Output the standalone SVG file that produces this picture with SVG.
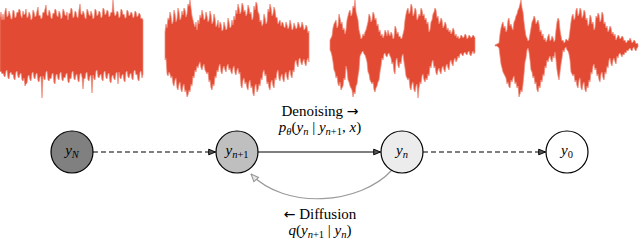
<svg xmlns="http://www.w3.org/2000/svg" width="640" height="240" viewBox="0 0 640 240">
<style>
.wave{fill:#e34a33;stroke:#ee8b7a;stroke-width:0.7;stroke-linejoin:miter}
.node{stroke:#000;stroke-width:1.2}
.lbl{font-family:"Liberation Serif","Times New Roman",serif;font-size:15px;fill:#000}
.it{font-style:italic}
.sub{font-size:10.5px}
.arr{font-family:"DejaVu Sans",sans-serif;font-size:14px}
.edge{fill:none;stroke:#000;stroke-width:1.2}
.dash{stroke-dasharray:5 3}
.diff{fill:none;stroke:#9a9a9a;stroke-width:1.2}
</style>
<defs>
<marker id="ah" viewBox="0 0 10 10" refX="9.5" refY="5" markerWidth="8" markerHeight="8" markerUnits="userSpaceOnUse" orient="auto">
<path d="M1,1.5 L9.5,5 L1,8.5 Z" fill="#555" stroke="#000" stroke-width="1.2"/>
</marker>
<marker id="ahg" viewBox="0 0 10 10" refX="9.5" refY="5" markerWidth="9" markerHeight="9" markerUnits="userSpaceOnUse" orient="auto">
<path d="M1,1.5 L9.5,5 L1,8.5 Z" fill="#e6e6e6" stroke="#9a9a9a" stroke-width="1.2"/>
</marker>
</defs>
<g id="waveforms">
<polygon class="wave" points="0,18 1,12 2,20 3,14 4,20 5,11 6,8 7,17 8,16 9,11 10,14 11,19 12,19 13,10 14,11 15,18 16,17 17,12 18,13 19,9 20,10 21,16 22,18 23,11 24,15 25,14 26,9 27,18 28,17 29,12 30,14 31,20 32,19 33,10 34,12 35,17 36,16 37,11 38,7 39,16 40,15 41,19 42,18 43,12 44,13 45,9 46,5 47,15 48,16 49,10 50,12 51,18 52,19 53,13 54,14 55,9 56,10 57,16 58,17 59,11 60,13 61,19 62,18 63,9 64,11 65,15 66,16 67,12 68,20 69,13 70,14 71,8 72,9 73,18 74,17 75,11 76,12 77,17 78,18 79,10 80,4 81,14 82,15 83,11 84,13 85,18 86,19 87,9 88,11 89,15 90,16 91,11 92,14 93,19 94,18 95,9 96,10 97,16 98,15 99,11 100,12 101,18 102,17 103,8 104,9 105,15 106,14 107,10 108,11 109,17 110,16 111,12 112,13 113,0 114,12 115,16 116,15 117,11 118,12 119,18 120,17 121,9 122,10 123,15 124,14 125,18 126,18 127,10 128,11 129,16 130,15 131,12 132,13 133,18 134,17 135,11 136,12 137,17 138,16 139,13 140,14 141,19 142,18 143,20 143,74 142,78 141,71 140,72 139,81 138,80 137,74 136,75 135,70 134,71 133,80 132,79 131,73 130,74 129,78 128,77 127,71 126,72 125,82 124,81 123,74 122,75 121,79 120,78 119,72 118,84 117,72 116,73 115,80 114,79 113,75 112,76 111,83 110,82 109,73 108,74 107,79 106,78 105,71 104,72 103,81 102,80 101,74 100,75 99,78 98,77 97,70 96,71 95,80 94,79 93,75 92,93 91,75 90,76 89,81 88,80 87,72 86,73 85,79 84,78 83,89 82,77 81,73 80,74 79,82 78,81 77,74 76,75 75,80 74,79 73,71 72,72 71,79 70,78 69,83 68,82 67,73 66,74 65,78 64,77 63,81 62,80 61,72 60,73 59,80 58,79 57,74 56,75 55,84 54,83 53,73 52,74 51,79 50,78 49,81 48,80 47,71 46,72 45,80 44,79 43,76 42,98 41,76 40,77 39,82 38,81 37,73 36,74 35,79 34,78 33,72 32,73 31,81 30,80 29,75 28,76 27,83 26,84 25,86 24,78 23,81 22,80 21,73 20,74 19,78 18,77 17,71 16,72 15,80 14,79 13,74 12,75 11,72 10,73 9,79 8,78 7,70 6,71 5,77 4,76 3,73 2,74 1,71 0,72"/>
<polygon class="wave" points="165,32 166,24 167,28 168,18 169,20 170,12 171,16 172,24 173,22 174,10 175,14 176,22 177,19 178,8 179,12 180,20 181,18 182,11 183,15 184,8 185,10 186,17 187,14 188,4 189,6 190,0 191,8 192,16 193,20 194,24 195,27 196,22 197,30 198,20 199,24 200,15 201,18 202,10 203,14 204,20 205,19 206,12 207,16 208,22 209,20 210,11 211,15 212,24 213,22 214,14 215,18 216,27 217,25 218,20 219,28 220,22 221,24 222,31 223,30 224,22 225,26 226,30 227,29 228,18 229,22 230,28 231,27 232,20 233,25 234,16 235,20 236,10 237,14 238,4 239,8 240,14 241,12 242,3 243,5 244,12 245,10 246,16 247,14 248,5 249,8 250,14 251,12 252,20 253,18 254,6 255,10 256,2 257,4 258,12 259,14 260,22 261,20 262,26 263,24 264,14 265,18 266,24 267,22 268,9 269,12 270,4 271,8 272,16 273,14 274,7 275,10 276,18 277,17 278,24 279,22 280,20 281,26 282,22 283,23 284,27 285,28 286,22 287,25 288,29 289,27 290,20 291,24 292,30 293,29 294,23 295,26 296,29 297,28 298,22 299,24 300,28 301,27 302,22 303,25 304,30 305,29 306,25 307,27 308,33 309,31 309,62 308,58 307,60 306,66 305,64 304,59 303,61 302,65 301,63 300,58 299,59 298,67 297,65 296,60 295,62 294,72 293,70 292,78 291,76 290,70 289,72 288,80 287,78 286,72 285,74 284,82 283,80 282,74 281,76 280,81 279,79 278,70 277,72 276,80 275,78 274,88 273,86 272,80 271,82 270,90 269,88 268,82 267,84 266,74 265,76 264,70 263,72 262,80 261,78 260,86 259,84 258,90 257,92 256,84 255,86 254,96 253,94 252,86 251,88 250,80 249,82 248,90 247,88 246,82 245,84 244,78 243,80 242,88 241,86 240,72 239,74 238,68 237,70 236,75 235,73 234,66 233,68 232,74 231,72 230,68 229,70 228,64 227,66 226,72 225,70 224,66 223,68 222,74 221,72 220,64 219,66 218,72 217,70 216,78 215,76 214,86 213,84 212,90 211,88 210,80 209,82 208,72 207,74 206,72 205,70 204,64 203,66 202,70 201,68 200,62 199,64 198,68 197,66 196,72 195,70 194,78 193,76 192,86 191,84 190,92 189,90 188,95 187,97 186,90 185,92 184,84 183,86 182,92 181,90 180,82 179,84 178,90 177,88 176,78 175,80 174,86 173,84 172,76 171,78 170,74 169,72 168,76 167,74 166,58 165,60"/>
<polygon class="wave" points="330,40 331,38 332,36 333,28 334,24 335,22 336,20 337,28 338,26 339,14 340,18 341,24 342,22 343,30 344,28 345,34 346,30 347,20 348,16 349,12 350,10 351,16 352,14 353,6 354,8 355,0 356,12 357,16 358,20 359,30 360,34 361,39 362,38 363,34 364,36 365,32 366,30 367,26 368,22 369,14 370,16 371,22 372,20 373,12 374,14 375,20 376,18 377,26 378,24 379,32 380,30 381,36 382,34 383,38 384,36 385,30 386,32 387,36 388,30 389,34 390,36 391,32 392,34 393,39 394,38 395,26 396,28 397,34 398,32 399,37 400,36 401,39 402,38 403,34 404,30 405,20 406,14 407,10 408,8 409,14 410,12 411,4 412,6 413,16 414,14 415,8 416,10 417,20 418,18 419,14 420,16 421,8 422,10 423,16 424,14 425,20 426,18 427,24 428,22 429,32 430,30 431,22 432,20 433,14 434,12 435,8 436,10 437,18 438,16 439,24 440,22 441,18 442,20 443,28 444,26 445,22 446,24 447,30 448,28 449,32 450,30 451,34 452,32 453,28 454,30 455,36 456,34 457,38 458,36 459,39 460,38 461,35 462,36 463,38 464,37 465,34 466,35 467,39 468,38 469,35 470,36 471,38 472,37 473,35 474,36 475,38 475,52 474,54 473,51 472,53 471,56 470,55 469,51 468,52 467,55 466,54 465,52 464,53 463,56 462,55 461,53 460,54 459,58 458,56 457,60 456,62 455,58 454,60 453,66 452,64 451,60 450,62 449,70 448,68 447,64 446,66 445,72 444,70 443,66 442,68 441,74 440,72 439,68 438,70 437,75 436,73 435,66 434,68 433,60 432,62 431,68 430,66 429,76 428,74 427,80 426,78 425,82 424,80 423,74 422,76 421,84 420,82 419,88 418,98 417,84 416,86 415,92 414,90 413,82 412,84 411,90 410,88 409,78 408,80 407,78 406,76 405,68 404,62 403,54 402,56 401,64 400,62 399,68 398,66 397,58 396,60 395,74 394,72 393,62 392,64 391,58 390,56 389,53 388,54 387,57 386,56 385,53 384,54 383,60 382,58 381,66 380,72 379,80 378,82 377,86 376,88 375,92 374,90 373,82 372,84 371,82 370,80 369,74 368,72 367,62 366,58 365,55 364,54 363,51 362,52 361,54 360,56 359,70 358,76 357,84 356,86 355,94 354,92 353,97 352,90 351,88 350,86 349,82 348,80 347,70 346,66 345,80 344,78 343,86 342,88 341,90 340,82 339,86 338,84 337,76 336,78 335,72 334,70 333,62 332,56 331,52 330,50"/>
<polygon class="wave" points="495,45 497,44 499,43 500,34 501,28 502,24 503,22 504,28 505,26 506,32 507,30 508,20 509,18 510,26 511,24 512,28 513,30 514,22 515,20 516,16 517,14 518,10 519,8 520,4 521,0 522,8 523,12 524,22 525,30 526,36 527,38 528,41 529,40 530,34 531,28 532,22 533,20 534,16 535,18 536,24 537,22 538,20 539,24 540,32 541,30 542,36 543,34 544,40 545,38 546,42 547,40 548,36 549,34 550,41 551,40 552,36 553,38 554,42 555,40 556,30 557,22 558,18 559,20 560,30 561,36 562,41 563,40 564,43 565,42 566,39 567,40 568,41 569,38 570,30 571,22 572,16 573,14 574,20 575,18 576,10 577,8 578,16 579,14 580,8 581,10 582,18 583,16 584,10 585,12 586,20 587,18 588,26 589,24 590,15 591,17 592,24 593,22 594,30 595,28 596,16 597,18 598,13 599,15 600,22 601,20 602,12 603,14 604,24 605,22 606,28 607,26 608,32 609,30 610,26 611,28 612,34 613,32 614,36 615,34 616,40 617,38 618,35 619,36 620,39 621,38 622,36 623,37 624,41 625,40 626,43 627,42 628,40 629,41 630,38 631,40 632,43 633,42 634,40 635,41 636,44 637,43 638,44 638,47 637,48 636,51 635,50 634,47 633,48 632,51 631,50 630,48 629,49 628,51 627,50 626,53 625,52 624,55 623,54 622,57 621,55 620,53 619,54 618,58 617,56 616,64 615,62 614,58 613,60 612,66 611,64 610,58 609,60 608,68 607,66 606,74 605,72 604,80 603,78 602,72 601,74 600,82 599,80 598,74 597,76 596,68 595,70 594,64 593,66 592,74 591,72 590,82 589,80 588,88 587,86 586,92 585,90 584,82 583,84 582,90 581,88 580,78 579,80 578,88 577,86 576,80 575,82 574,74 573,76 572,74 571,72 570,60 569,54 568,51 567,50 566,47 565,48 564,52 563,50 562,58 561,64 560,72 559,80 558,76 557,70 556,60 555,52 554,58 553,56 552,62 551,60 550,56 549,58 548,62 547,60 546,68 545,66 544,76 543,74 542,82 541,80 540,88 539,86 538,92 537,90 536,82 535,84 534,76 533,78 532,72 531,70 530,60 529,52 528,48 527,50 526,58 525,62 524,74 523,84 522,92 521,90 520,94 519,97 518,86 517,88 516,82 515,84 514,76 513,78 512,82 511,80 510,88 509,87 508,82 507,84 506,78 505,76 504,74 503,72 502,68 501,64 500,56 499,48 497,46 495,46"/>
</g>
<g id="connectors">
<line class="edge dash" x1="93" y1="152" x2="215.5" y2="152" marker-end="url(#ah)"/>
<line class="edge" x1="258" y1="152" x2="380.5" y2="152" marker-end="url(#ah)"/>
<line class="edge dash" x1="423" y1="152" x2="545.5" y2="152" marker-end="url(#ah)"/>
<path class="diff" d="M392,170 C360,205 285,210 251,174" marker-end="url(#ahg)"/>
<text class="lbl" x="320" y="116" text-anchor="middle">Denoising <tspan class="arr">→</tspan></text>
<text class="lbl" x="320" y="132" text-anchor="middle"><tspan class="it">p</tspan><tspan class="it sub" dy="2.5">θ</tspan><tspan dy="-2.5">(</tspan><tspan class="it">y</tspan><tspan class="it sub" dy="2.5">n</tspan><tspan dy="-2.5"> | </tspan><tspan class="it">y</tspan><tspan class="it sub" dy="2.5">n</tspan><tspan class="sub">+1</tspan><tspan dy="-2.5">, </tspan><tspan class="it">x</tspan><tspan>)</tspan></text>
<text class="lbl" x="320" y="219" text-anchor="middle"><tspan class="arr">←</tspan> Diffusion</text>
<text class="lbl" x="320" y="235" text-anchor="middle"><tspan class="it">q</tspan><tspan>(</tspan><tspan class="it">y</tspan><tspan class="it sub" dy="2.5">n</tspan><tspan class="sub">+1</tspan><tspan dy="-2.5"> | </tspan><tspan class="it">y</tspan><tspan class="it sub" dy="2.5">n</tspan><tspan dy="-2.5">)</tspan></text>
</g>
<g id="node-yN">
<circle class="node" cx="72" cy="152" r="21" fill="#808080"/>
<text class="lbl" x="72" y="155" text-anchor="middle"><tspan class="it">y</tspan><tspan class="it sub" dy="2.5">N</tspan></text>
</g>
<g id="node-yn1">
<circle class="node" cx="237" cy="152" r="21" fill="#bfbfbf"/>
<text class="lbl" x="237" y="155" text-anchor="middle"><tspan class="it">y</tspan><tspan class="it sub" dy="2.5">n</tspan><tspan class="sub">+1</tspan></text>
</g>
<g id="node-yn">
<circle class="node" cx="402" cy="152" r="21" fill="#ececec"/>
<text class="lbl" x="402" y="155" text-anchor="middle"><tspan class="it">y</tspan><tspan class="it sub" dy="2.5">n</tspan></text>
</g>
<g id="node-y0">
<circle class="node" cx="567" cy="152" r="21" fill="#ffffff"/>
<text class="lbl" x="567" y="155" text-anchor="middle"><tspan class="it">y</tspan><tspan class="sub" dy="2.5">0</tspan></text>
</g>
</svg>
